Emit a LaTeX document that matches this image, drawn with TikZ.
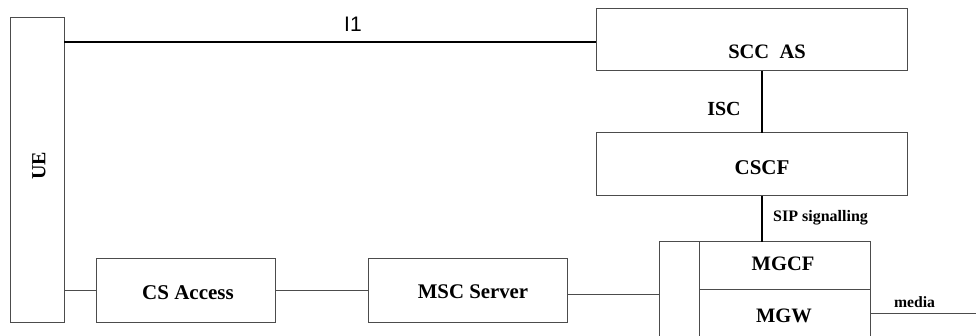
\documentclass[tikz,border=0pt]{standalone}
\usepackage{fontspec}
\setmainfont{Liberation Serif}
\newfontfamily\arialfont{Liberation Sans}
\begin{document}
\begin{tikzpicture}[x=1pt,y=-1pt,
  box/.style={draw=black!70,line width=1pt,inner sep=0pt,outer sep=0pt},
  thin/.style={draw=black!70,line width=1pt},
  thick/.style={draw=black,line width=2.6pt},
  lbl/.style={inner sep=0pt,font=\bfseries}]
\useasboundingbox (0,0) rectangle (976,336);
% boxes
\node[box,minimum width=54pt,minimum height=304pt] (ue) at (37,170) {};
\node[lbl,rotate=90,font=\bfseries\fontsize{20}{22}\selectfont] (uet) at (39,166) {UE};
\node[box,minimum width=311pt,minimum height=62pt] (scc) at (751.5,40) {};
\node[lbl,font=\bfseries\fontsize{20.5}{24}\selectfont] (scct) at (767,52) {SCC\ \ AS};
\node[box,minimum width=311pt,minimum height=63pt] (cscf) at (751.5,164.5) {};
\node[lbl,font=\bfseries\fontsize{21}{24}\selectfont] (cscft) at (762,168) {CSCF};
\node[box,minimum width=179pt,minimum height=63pt] (csa) at (185.5,290.5) {};
\node[lbl,font=\bfseries\fontsize{21}{24}\selectfont] (csat) at (188,293) {CS Access};
\node[box,minimum width=199pt,minimum height=63pt] (msc) at (468,290.5) {};
\node[lbl,font=\bfseries\fontsize{20.8}{24}\selectfont] (msct) at (473,292) {MSC Server};
\node[box,minimum width=211pt,minimum height=108pt] (mgb) at (764.5,296) {};
\node[box,minimum width=171pt,minimum height=48pt] (mgcf) at (784.5,266) {};
\node[box,minimum width=171pt,minimum height=60pt] (mgw) at (784.5,320) {};
\node[lbl,font=\bfseries\fontsize{20.5}{24}\selectfont] (mgcft) at (783,264) {MGCF};
\node[lbl,font=\bfseries\fontsize{20.5}{24}\selectfont] (mgwt) at (784,316) {MGW};
% connectors
\draw[thick] (ue.east |- 0,42) -- (scc.west |- 0,42);
\node[inner sep=0pt,font=\arialfont\fontsize{21}{24}\selectfont] (i1) at (353,24) {I1};
\draw[thick] ([xshift=10.5pt]scc.south) -- ([xshift=10.5pt]cscf.north);
\node[lbl,font=\bfseries\fontsize{20}{24}\selectfont] (isc) at (724,109) {ISC};
\draw[thick] ([xshift=10.5pt]cscf.south) -- ([xshift=10.5pt]cscf.south |- mgb.north);
\node[lbl,anchor=west,font=\bfseries\fontsize{16}{19}\selectfont] (sip) at (773,218) {SIP signalling};
\draw[thin] (ue.east |- csa.west) -- (csa.west);
\draw[thin] (csa.east) -- (msc.west);
\draw[thin] ([yshift=-3.8pt]msc.east) -- ([yshift=-3.8pt]msc.east -| mgb.west);
\coordinate (mend) at (976,313);
\draw[thin] (mgw.east |- mend) -- (mend);
\node[lbl,font=\bfseries\fontsize{15.7}{19}\selectfont] (media) at (914.5,302) {media};
\end{tikzpicture}
\end{document}
